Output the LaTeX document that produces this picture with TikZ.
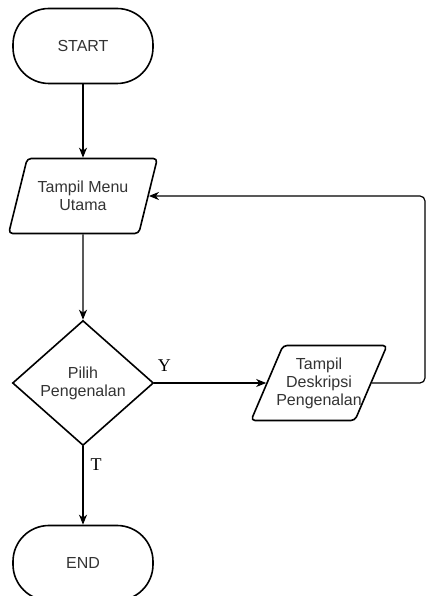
\documentclass[tikz,border=0pt]{standalone}
\usepackage{fontspec}
\setmainfont{Liberation Serif}
\setsansfont{Liberation Sans}
\usepackage{tikz}
\usetikzlibrary{calc,positioning,shapes,arrows.meta}

\tikzset{
  term/.style = {draw, line width=1.6pt, rectangle, rounded corners=36pt,
                 minimum width=140pt, minimum height=75pt},
  io/.style = {draw, line width=1.6pt, trapezium, trapezium left angle=66,
               trapezium right angle=114, trapezium stretches=true,
               rounded corners=4pt, minimum height=75pt},
  choice/.style = {draw, line width=1.6pt, diamond, aspect=1.13, inner sep=0pt,
                   minimum width=141pt, minimum height=125pt},
  txt/.style = {font=\sffamily\fontsize{16}{18}\selectfont, text=black!80, align=center},
  flow/.style = {line width=1.2pt, -{Stealth[length=10pt,width=8pt,inset=3pt]}},
  yn/.style = {font=\fontsize{18}{20}\selectfont}
}

\begin{document}
\begin{tikzpicture}[x=1pt, y=1pt]
\useasboundingbox (0,0) rectangle (427,596);
%\draw (0,0) grid (427,596);
\node[term, txt] (start) at (83,550) {START};
\node[io, txt, minimum width=149pt] (menu) at (83,400) {Tampil Menu\\Utama};
\node[choice, txt] (pilih) at (83,213) {Pilih\\Pengenalan};
\node[io, minimum width=136pt,
      label={[txt]center:Tampil\\Deskripsi\\Pengenalan}] (desc) at (319,213) {};
\node[term, txt] (end) at (83,33) {END};
\coordinate (back) at (425,213);

\draw[flow] (start) -- (menu);
\draw[flow] (menu) -- (pilih);
\draw[flow] (pilih.east) -- (desc.west);
\draw[flow] (pilih.south) -- (end);
\draw[flow, rounded corners=5pt] (desc.east) -- (back) |- (menu.east);

\path (pilih.east) ++(10,17) node[yn] (ya) {Y};
\path (pilih.south) ++(13,-18) node[yn] (tidak) {T};
\end{tikzpicture}
\end{document}
